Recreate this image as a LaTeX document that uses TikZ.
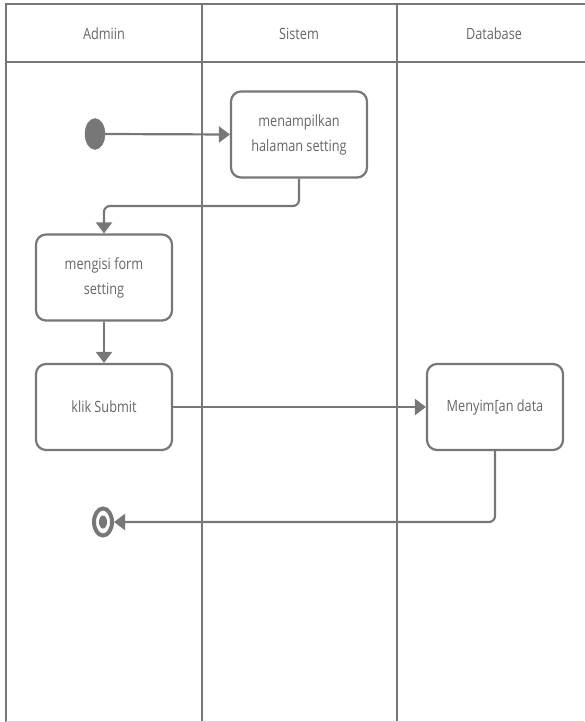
\documentclass[tikz,border=0pt]{standalone}
\usepackage{fontspec}
\setmainfont{Open Sans}[FakeStretch=0.82]
\usetikzlibrary{arrows.meta,shapes.geometric}
\definecolor{linegray}{HTML}{777777}
\definecolor{textgray}{HTML}{666666}
\tikzset{
  lane/.style={draw=linegray, line width=2.2pt},
  lanetitle/.style={text=textgray, font=\fontsize{15.5}{18}\selectfont, anchor=center},
  action/.style={draw=linegray, line width=2.2pt, rounded corners=10pt, fill=white,
    text=textgray, font=\fontsize{15.5}{25}\selectfont, align=center,
    minimum width=136pt, minimum height=86pt, inner sep=0pt},
  flow/.style={draw=linegray, line width=2.2pt, rounded corners=6pt,
    -{Triangle[length=11pt,width=16pt]}},
}
\begin{document}
\begin{tikzpicture}[x=1pt, y=-1pt]
\useasboundingbox (0,0) rectangle (584,722);
% swimlane frame
\draw[lane] (6,722) -- (6,4) -- (590,4);
\draw[lane] (6,62) -- (590,62);
\draw[lane] (202,4) -- (202,722);
\draw[lane] (397,4) -- (397,722);
\draw[draw=linegray!30, line width=1pt] (6,721.5) -- (584,721.5);
% lane titles
\node[lanetitle] (tadmin) at (104,34) {Admiin};
\node[lanetitle] (tsys) at (299,34) {Sistem};
\node[lanetitle] (tdb) at (494,34) {Database};
% activities
\node[draw=linegray, fill=linegray, ellipse, minimum width=20pt, minimum height=31pt, inner sep=0pt] (start) at (95,134) {};
\node[action] (show) at (299,134.5) {menampilkan\\halaman setting};
\node[action] (fill) at (104,277.5) {mengisi form\\setting};
\node[action] (submit) at (104,407) {klik Submit};
\node[action] (save) at (495,407) {Menyim[an data};
% final node
\node[draw=linegray, line width=4pt, ellipse, minimum width=18pt, minimum height=27pt, inner sep=0pt,
  path picture={\fill[linegray] (path picture bounding box.center) ellipse (4pt and 6.5pt);}] (end) at (103,522) {};
% control flow
\draw[flow] (start.east) -- (show.west);
\draw[flow] (show.south) |- (104,206) -- (fill.north);
\draw[flow] (fill.south) -- (submit.north);
\draw[flow] (submit.east) -- (save.west);
\draw[flow] (save.south) |- (end.east);
\end{tikzpicture}
\end{document}
